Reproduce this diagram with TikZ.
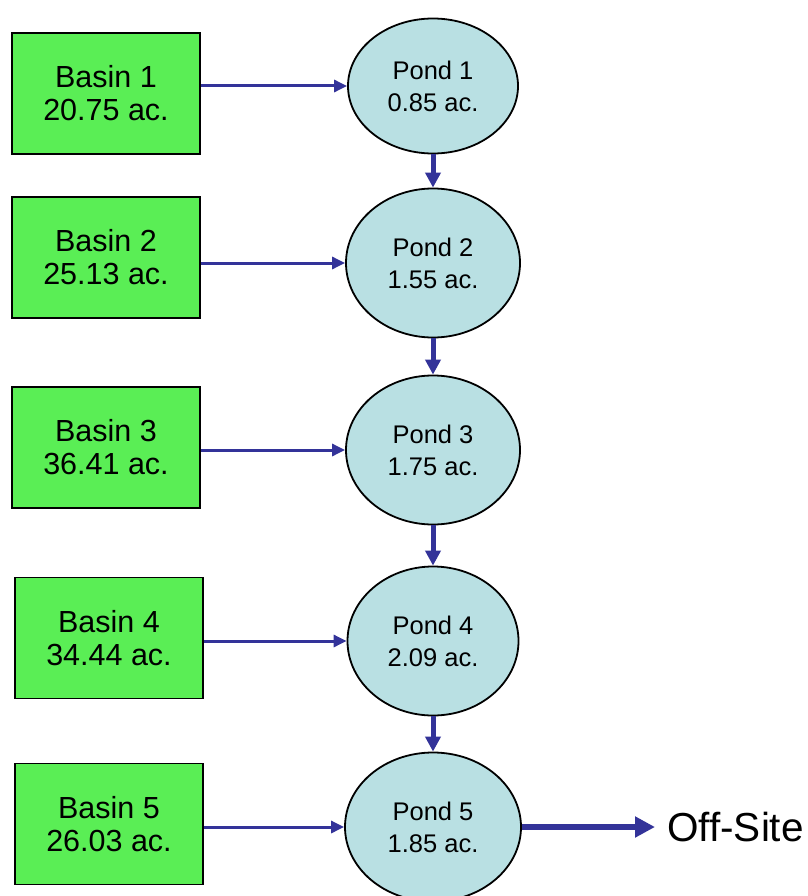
\documentclass[tikz,border=0pt]{standalone}
\usepackage{fontspec}
\setmainfont{Liberation Sans}
\usetikzlibrary{shapes.geometric,arrows.meta}
\definecolor{basingreen}{RGB}{90,238,85}
\definecolor{pondblue}{RGB}{185,224,227}
\definecolor{flowblue}{RGB}{51,51,153}
\begin{document}
\begin{tikzpicture}[x=1pt,y=-1pt,
  basin/.style={draw=black,line width=1.8pt,fill=basingreen,minimum width=188pt,minimum height=121pt,inner sep=0pt,align=center,font=\fontsize{30.5}{33}\selectfont},
  pond/.style={ellipse,draw=black,line width=1.8pt,fill=pondblue,minimum width=174pt,minimum height=149pt,inner sep=0pt,align=center,font=\fontsize{25.5}{32}\selectfont},
  inflow/.style={draw=flowblue,line width=3pt,-{Triangle[length=13pt,width=12pt]}},
  pondflow/.style={draw=flowblue,line width=5pt,-{Triangle[length=15pt,width=15pt]}},
  outflow/.style={draw=flowblue,line width=6.5pt,-{Triangle[length=20pt,width=20pt]}}]
\useasboundingbox (0,0) rectangle (807,896);
% basins
\node[basin] (b1) at (106,93.5) {Basin 1\\20.75 ac.};
\node[basin] (b2) at (106,257.5) {Basin 2\\25.13 ac.};
\node[basin] (b3) at (106,447.5) {Basin 3\\36.41 ac.};
\node[basin] (b4) at (109,638) {Basin 4\\34.44 ac.};
\node[basin] (b5) at (109,824) {Basin 5\\26.03 ac.};
% ponds
\node[pond,minimum width=170pt,minimum height=135pt] (p1) at (433,86) {Pond 1\\0.85 ac.};
\node[pond] (p2) at (433,263) {Pond 2\\1.55 ac.};
\node[pond] (p3) at (433,450) {Pond 3\\1.75 ac.};
\node[pond,minimum width=171pt] (p4) at (433,641) {Pond 4\\2.09 ac.};
\node[pond,minimum width=176pt] (p5) at (433,827) {Pond 5\\1.85 ac.};
% off-site
\node[anchor=west,inner xsep=12pt,inner ysep=0pt,font=\fontsize{40.5}{44}\selectfont] (off) at (655,827) {Off-Site};
% inflows
\draw[inflow] (b1.east |- p1.west) -- (p1.west);
\draw[inflow] (b2.east |- p2.west) -- (p2.west);
\draw[inflow] (b3.east |- p3.west) -- (p3.west);
\draw[inflow] (b4.east |- p4.west) -- (p4.west);
\draw[inflow] (b5.east |- p5.west) -- (p5.west);
% pond to pond
\draw[pondflow] (p1.south) -- (p2.north);
\draw[pondflow] (p2.south) -- (p3.north);
\draw[pondflow] (p3.south) -- (p4.north);
\draw[pondflow] (p4.south) -- (p5.north);
% outflow
\draw[outflow] (p5.east) -- (off.west);
\end{tikzpicture}
\end{document}
